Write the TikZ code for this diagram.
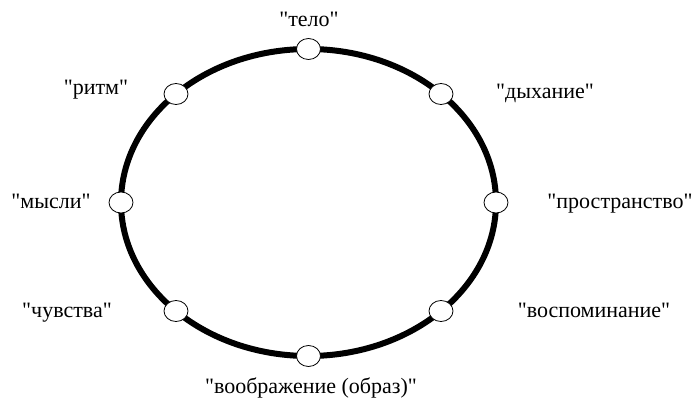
\documentclass[tikz,border=0pt]{standalone}
\usepackage{fontspec}
\setmainfont{Liberation Serif}[Ligatures=TeXOff]
\usetikzlibrary{shapes.geometric}
\tikzset{
  dot/.style={ellipse,draw=black,fill=white,line width=0.8pt,minimum width=24pt,minimum height=21pt,inner sep=0pt},
  lbl/.style={anchor=base,inner sep=0pt,font=\fontsize{22}{26}\selectfont},
  ring/.style={line width=6pt,draw=black}
}
\begin{document}
\begin{tikzpicture}[x=1pt,y=-1pt]
\useasboundingbox (0,0) rectangle (694,398);
\draw[ring] (308.5,202.5) ellipse [x radius=187.5pt, y radius=153.5pt];
\node[dot] (telo) at (308.5,49) {};
\node[dot] (dyh) at (441,94) {};
\node[dot] (prost) at (496,202.5) {};
\node[dot] (vosp) at (441,311) {};
\node[dot] (voobr) at (308.5,356) {};
\node[dot] (chuv) at (176,311) {};
\node[dot] (mysl) at (121,202.5) {};
\node[dot] (ritm) at (176,94) {};
\node[lbl] (ltelo) at (309,27) {"тело"};
\node[lbl] (lritm) at (96,95) {"ритм"};
\node[lbl] (lmysl) at (51,209) {"мысли"};
\node[lbl] (ldyh) at (545,99) {"дыхание"};
\node[lbl] (lprost) at (620,209) {"пространство"};
\node[lbl] (lchuv) at (67,317) {"чувства"};
\node[lbl] (lvosp) at (594,317) {"воспоминание"};
\node[lbl] (lvoobr) at (311,393) {"воображение (образ)"};
\end{tikzpicture}
\end{document}
